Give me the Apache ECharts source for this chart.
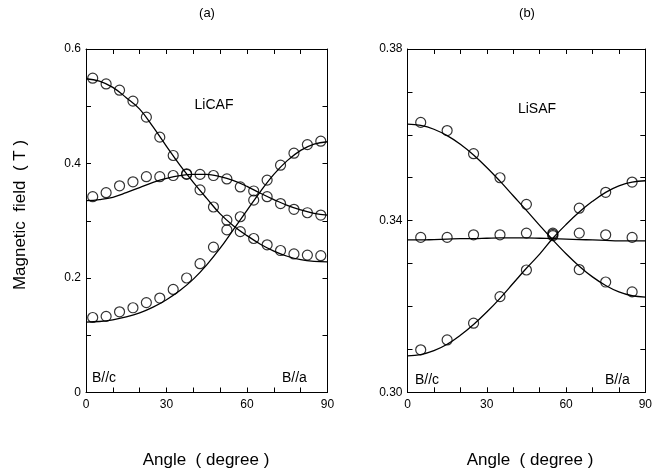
<!DOCTYPE html>
<html>
<head>
<meta charset="utf-8">
<script src="https://cdn.jsdelivr.net/npm/echarts@6/dist/echarts.min.js"></script>
<style>
  html, body { margin: 0; padding: 0; background: #fff; }
  #chart { width: 655px; height: 476px; }
</style>
</head>
<body>
<div id="chart"></div>
<script>
// Angles (degree) of the calculated curves
const fitAngles = [0, 5, 10, 15, 20, 25, 30, 35, 40, 45, 50, 55, 60, 65, 70, 75, 80, 85, 90];

// LiCAF: measured resonance fields (T)
const licafAngles = [2.5, 7.5, 12.5, 17.5, 22.5, 27.5, 32.5, 37.5, 42.5, 47.5, 52.5, 57.5, 62.5, 67.5, 72.5, 77.5, 82.5, 87.5];
const licafHighObs = [0.549, 0.539, 0.528, 0.509, 0.481, 0.446, 0.414, 0.381, 0.354, 0.324, 0.301, 0.281, 0.269, 0.258, 0.248, 0.242, 0.240, 0.239];
const licafMidObs  = [0.342, 0.349, 0.361, 0.368, 0.377, 0.377, 0.379, 0.382, 0.381, 0.379, 0.373, 0.359, 0.352, 0.342, 0.330, 0.320, 0.314, 0.310];
const licafLowObs  = [0.131, 0.133, 0.141, 0.148, 0.157, 0.165, 0.180, 0.200, 0.225, 0.254, 0.284, 0.307, 0.336, 0.371, 0.397, 0.418, 0.433, 0.439];

// LiCAF: calculated curves (T)
const licafHighFit = [0.548, 0.544, 0.533, 0.515, 0.495, 0.464, 0.430, 0.397, 0.367, 0.339, 0.312, 0.291, 0.274, 0.259, 0.247, 0.238, 0.232, 0.229, 0.228];
const licafMidFit  = [0.335, 0.337, 0.341, 0.349, 0.358, 0.367, 0.374, 0.379, 0.381, 0.381, 0.377, 0.370, 0.360, 0.348, 0.337, 0.327, 0.319, 0.313, 0.310];
const licafLowFit  = [0.123, 0.124, 0.127, 0.132, 0.139, 0.149, 0.162, 0.178, 0.198, 0.223, 0.252, 0.285, 0.318, 0.351, 0.381, 0.405, 0.423, 0.434, 0.438];

// LiSAF: measured resonance fields (T)
const lisafAngles = [5, 15, 25, 35, 45, 55, 65, 75, 85];
const lisafHighObs = [0.3629, 0.3610, 0.3556, 0.3500, 0.3438, 0.3365, 0.3286, 0.3257, 0.3234];
const lisafMidObs  = [0.3361, 0.3361, 0.3367, 0.3367, 0.3371, 0.3371, 0.3371, 0.3367, 0.3361];
const lisafLowObs  = [0.3099, 0.3122, 0.3161, 0.3223, 0.3285, 0.3368, 0.3429, 0.3466, 0.3490];

// LiSAF: calculated curves (T)
const lisafHighFit = [0.3625, 0.3622, 0.3613, 0.3598, 0.3578, 0.3553, 0.3524, 0.3492, 0.3458, 0.3424, 0.3389, 0.3355, 0.3323, 0.3294, 0.3269, 0.3249, 0.3234, 0.3225, 0.3222];
const lisafMidFit  = [0.3355, 0.3355, 0.3356, 0.3357, 0.3358, 0.3358, 0.3359, 0.3360, 0.3360, 0.3360, 0.3359, 0.3358, 0.3357, 0.3356, 0.3355, 0.3354, 0.3353, 0.3353, 0.3353];
const lisafLowFit  = [0.3085, 0.3088, 0.3097, 0.3112, 0.3133, 0.3158, 0.3187, 0.3219, 0.3254, 0.3289, 0.3322, 0.3359, 0.3391, 0.3420, 0.3445, 0.3466, 0.3481, 0.3490, 0.3493];

const FONT = '"Liberation Sans", Arial, Helvetica, sans-serif';
const INK = '#000';

function pairs(xs, ys) { return xs.map((x, i) => [x, ys[i]]); }

const frameLine = { show: true, onZero: false, lineStyle: { color: INK, width: 1 } };
const innerTicks = { show: true, inside: true, length: 5, lineStyle: { color: INK, width: 1 } };

function xAxes(gridIndex) {
  const common = {
    type: 'value', gridIndex, min: 0, max: 90, interval: 10,
    axisLine: frameLine, axisTick: innerTicks, splitLine: { show: false }
  };
  return [
    Object.assign({}, common, {
      position: 'bottom',
      axisLabel: {
        color: INK, fontFamily: FONT, fontSize: 12, margin: 6,
        formatter: v => (Math.round(v) % 30 === 0 ? String(Math.round(v)) : '')
      }
    }),
    Object.assign({}, common, { position: 'top', axisLabel: { show: false } })
  ];
}

function yAxes(gridIndex, min, max, interval, fmt) {
  const common = {
    type: 'value', gridIndex, min, max, interval,
    axisLine: frameLine, axisTick: innerTicks, splitLine: { show: false }
  };
  return [
    Object.assign({}, common, {
      position: 'left',
      axisLabel: { color: INK, fontFamily: FONT, fontSize: 12, margin: 5, formatter: fmt }
    }),
    Object.assign({}, common, { position: 'right', axisLabel: { show: false } })
  ];
}

function fitSeries(xIdx, yIdx, ys) {
  return {
    type: 'line', xAxisIndex: xIdx, yAxisIndex: yIdx,
    data: pairs(fitAngles, ys), smooth: 0.4, showSymbol: false,
    lineStyle: { color: INK, width: 1.3 }, z: 2, animation: false
  };
}

function obsSeries(xIdx, yIdx, xs, ys) {
  return {
    type: 'scatter', xAxisIndex: xIdx, yAxisIndex: yIdx,
    data: pairs(xs, ys), symbol: 'circle', symbolSize: 10,
    itemStyle: { color: 'transparent', borderColor: INK, borderWidth: 1.2 },
    z: 3, animation: false
  };
}

const chart = echarts.init(document.getElementById('chart'), null, { renderer: 'canvas' });

const textStyle = (txt, size) => ({ text: txt, fill: INK, font: size + 'px ' + FONT });

chart.setOption({
  backgroundColor: '#fff',
  animation: false,
  grid: [
    { left: 86, top: 49, width: 241.5, height: 343.5 },
    { left: 407.5, top: 49, width: 242, height: 343.3 }
  ],
  xAxis: [].concat(xAxes(0), xAxes(1)),
  yAxis: [].concat(
    yAxes(0, 0, 0.6, 0.1, v => {
      const k = Math.round(v * 10);
      return k % 2 === 0 ? (k === 0 ? '0' : (k / 10).toFixed(1)) : '';
    }),
    yAxes(1, 0.30, 0.38, 0.01, v => {
      const k = Math.round(v * 100);
      return k % 4 === 2 ? (k / 100).toFixed(2) : '';
    })
  ),
  series: [
    fitSeries(0, 0, licafHighFit),
    fitSeries(0, 0, licafMidFit),
    fitSeries(0, 0, licafLowFit),
    obsSeries(0, 0, licafAngles, licafHighObs),
    obsSeries(0, 0, licafAngles, licafMidObs),
    obsSeries(0, 0, licafAngles, licafLowObs),
    fitSeries(2, 2, lisafHighFit),
    fitSeries(2, 2, lisafMidFit),
    fitSeries(2, 2, lisafLowFit),
    obsSeries(2, 2, lisafAngles, lisafHighObs),
    obsSeries(2, 2, lisafAngles, lisafMidObs),
    obsSeries(2, 2, lisafAngles, lisafLowObs)
  ],
  graphic: [
    { type: 'text', x: 207, y: 13, style: Object.assign(textStyle('(a)', 13), { align: 'center', verticalAlign: 'middle' }) },
    { type: 'text', x: 527, y: 13, style: Object.assign(textStyle('(b)', 13), { align: 'center', verticalAlign: 'middle' }) },
    { type: 'text', x: 214, y: 105, style: Object.assign(textStyle('LiCAF', 14), { align: 'center', verticalAlign: 'middle' }) },
    { type: 'text', x: 537, y: 109, style: Object.assign(textStyle('LiSAF', 14), { align: 'center', verticalAlign: 'middle' }) },
    { type: 'text', x: 92, y: 378, style: Object.assign(textStyle('B//c', 14), { align: 'left', verticalAlign: 'middle' }) },
    { type: 'text', x: 282, y: 378, style: Object.assign(textStyle('B//a', 14), { align: 'left', verticalAlign: 'middle' }) },
    { type: 'text', x: 415, y: 380, style: Object.assign(textStyle('B//c', 14), { align: 'left', verticalAlign: 'middle' }) },
    { type: 'text', x: 605, y: 380, style: Object.assign(textStyle('B//a', 14), { align: 'left', verticalAlign: 'middle' }) },
    { type: 'text', x: 206, y: 460, style: Object.assign(textStyle('Angle  ( degree )', 17), { align: 'center', verticalAlign: 'middle' }) },
    { type: 'text', x: 530, y: 460, style: Object.assign(textStyle('Angle  ( degree )', 17), { align: 'center', verticalAlign: 'middle' }) },
    { type: 'text', x: 20, y: 215, rotation: Math.PI / 2, style: Object.assign(textStyle('Magnetic  field  ( T )', 17), { align: 'center', verticalAlign: 'middle' }) }
  ]
});
</script>
</body>
</html>
